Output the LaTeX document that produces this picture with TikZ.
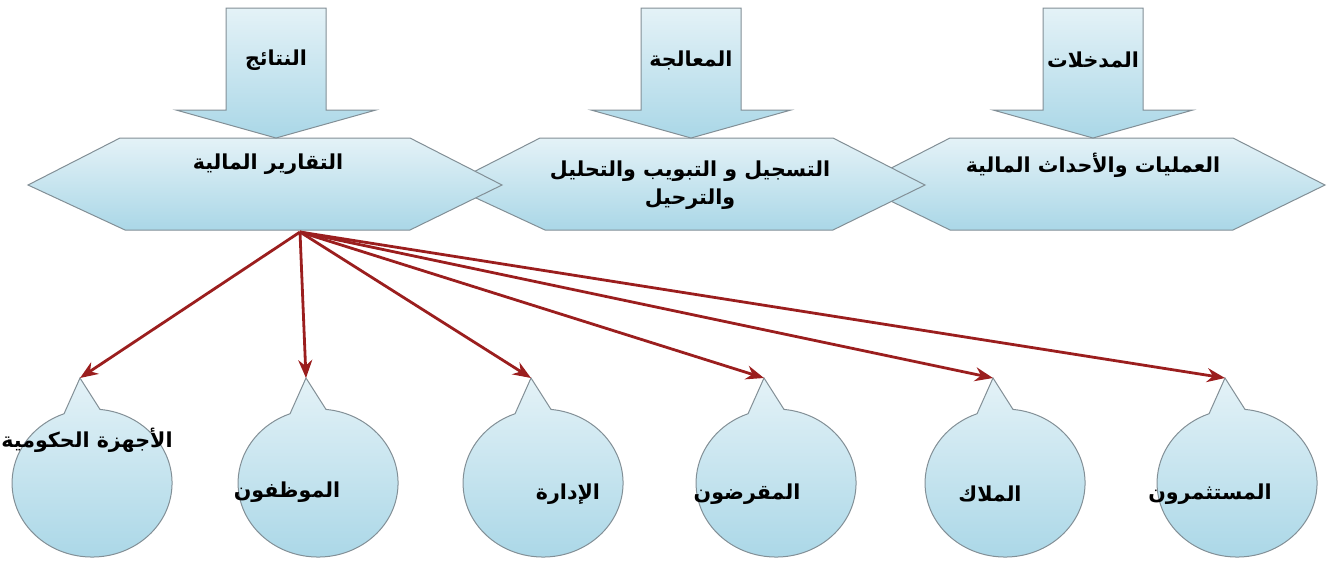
\documentclass[tikz,border=0pt]{standalone}
\usepackage{fontspec}
\newfontfamily\arabicfont[Script=Arabic]{DejaVu Sans}
\TeXXeTstate=1
\usetikzlibrary{arrows.meta}
\definecolor{paleblue}{RGB}{228,242,247}
\definecolor{iceblue}{RGB}{170,215,231}
\definecolor{rimgray}{RGB}{130,143,150}
\definecolor{linkred}{RGB}{155,30,30}

\begin{document}
\begin{tikzpicture}[x=0.5pt,y=-0.5pt,
  panel/.style={top color=paleblue,bottom color=iceblue,draw=rimgray,line width=0.5pt},
  lbl/.style={font=\arabicfont\bfseries\fontsize{10.3}{14}\selectfont,align=center},
  link/.style={linkred,line width=1.4pt,-{Stealth[length=9pt,width=7pt]}}]
  \useasboundingbox (0,0) rectangle (1339,564);
  % three stages, the right one at the back
  \draw[panel] (950,138) -- (1233,138) -- (1325,185) -- (1233,230) -- (950,230) -- (858,185) -- cycle;
  \draw[panel] (540,138) -- (833,138) -- (925,185) -- (833,230) -- (545,230) -- (448,185) -- cycle;
  \draw[panel] (120,138) -- (410,138) -- (502,185) -- (410,230) -- (125,230) -- (28,185) -- cycle;
  \node[lbl] (events) at (1093,165) {\beginR العمليات والأحداث المالية\endR};
  \node[lbl] (process) at (690,185) {\beginR التسجيل و التبويب والتحليل\endR\\\beginR والترحيل\endR};
  \node[lbl] (reports) at (268,164) {\beginR التقارير المالية\endR};
  % arrows on top
  \draw[panel] (1043,8) -- (1143,8) -- (1143,110) -- (1193,110) -- (1093,138) -- (993,110) -- (1043,110) -- cycle;
  \draw[panel] (641,8) -- (741,8) -- (741,110) -- (791,110) -- (691,138) -- (591,110) -- (641,110) -- cycle;
  \draw[panel] (226,8) -- (326,8) -- (326,110) -- (376,110) -- (276,138) -- (176,110) -- (226,110) -- cycle;
  \node[lbl] (inputs) at (1093,60) {\beginR المدخلات\endR};
  \node[lbl] (handling) at (691,60) {\beginR المعالجة\endR};
  \node[lbl] (outputs) at (276,60) {\beginR النتائج\endR};

  % users of the reports
  \draw[panel] (80,378) -- (100,409.4) arc[start angle=-84.3,end angle=249.5,x radius=80,y radius=74] -- cycle;
  \draw[panel] (306,378) -- (326,409.4) arc[start angle=-84.3,end angle=249.5,x radius=80,y radius=74] -- cycle;
  \draw[panel] (531,378) -- (551,409.4) arc[start angle=-84.3,end angle=249.5,x radius=80,y radius=74] -- cycle;
  \draw[panel] (764,378) -- (784,409.4) arc[start angle=-84.3,end angle=249.5,x radius=80,y radius=74] -- cycle;
  \draw[panel] (993,378) -- (1013,409.4) arc[start angle=-84.3,end angle=249.5,x radius=80,y radius=74] -- cycle;
  \draw[panel] (1225,378) -- (1245,409.4) arc[start angle=-84.3,end angle=249.5,x radius=80,y radius=74] -- cycle;
  \coordinate (gov) at (80,378);
  \coordinate (staff) at (306,378);
  \coordinate (mgmt) at (531,378);
  \coordinate (lend) at (764,378);
  \coordinate (own) at (993,378);
  \coordinate (inv) at (1225,378);
  \node[lbl] (govtxt) at (87,440) {\beginR الأجهزة الحكومية\endR};
  \node[lbl] (stafftxt) at (287,492) {\beginR الموظفون\endR};
  \node[lbl] (mgmttxt) at (568,494) {\beginR الإدارة\endR};
  \node[lbl] (lendtxt) at (747,494) {\beginR المقرضون\endR};
  \node[lbl] (owntxt) at (990,494) {\beginR الملاك\endR};
  \node[lbl] (invtxt) at (1210,494) {\beginR المستثمرون\endR};

  \coordinate (src) at (300,232);
  \draw[link] (src) -- (gov);
  \draw[link] (src) -- (staff);
  \draw[link] (src) -- (mgmt);
  \draw[link] (src) -- (lend);
  \draw[link] (src) -- (own);
  \draw[link] (src) -- (inv);
\end{tikzpicture}
\end{document}
